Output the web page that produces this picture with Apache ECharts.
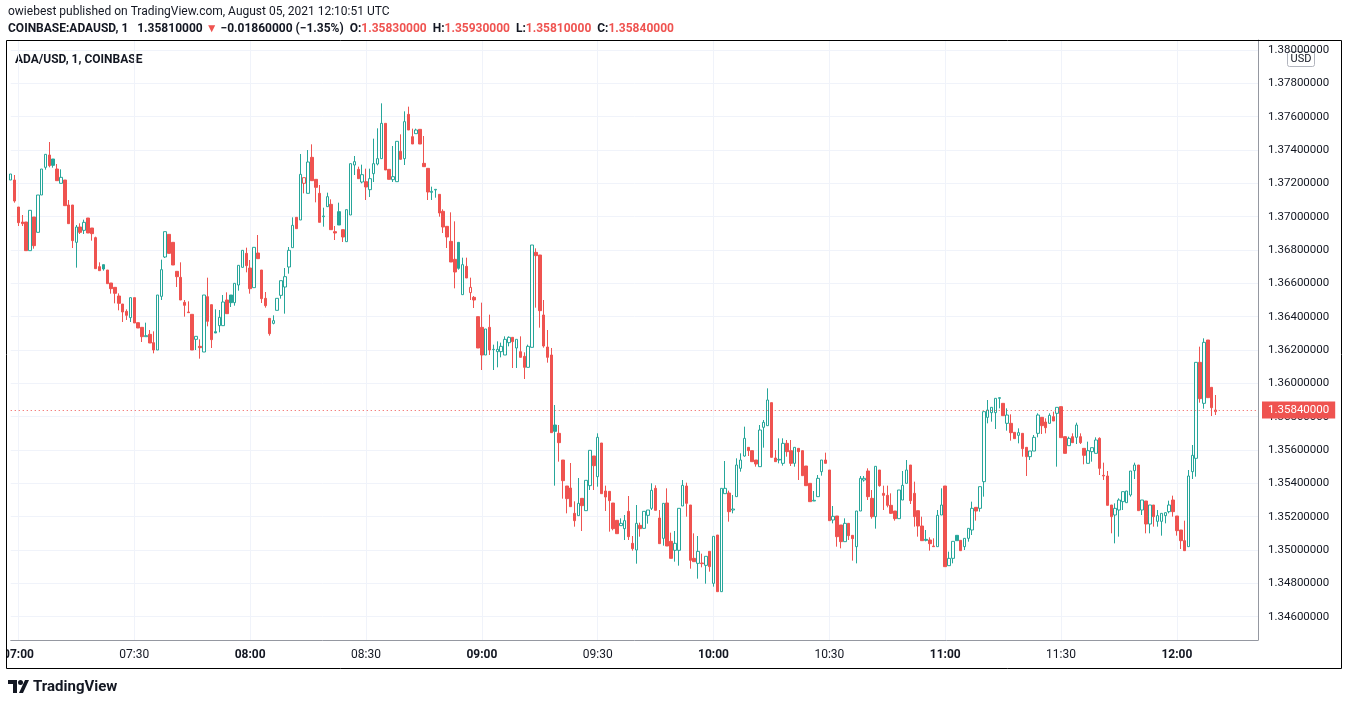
<!DOCTYPE html>
<html>
<head>
<meta charset="utf-8">
<title>ADA/USD, 1, COINBASE</title>
<script src="https://cdn.jsdelivr.net/npm/echarts@6.0.0/dist/echarts.min.js"></script>
<style>
  html, body { margin: 0; padding: 0; background: #ffffff; }
  #chart { width: 1348px; height: 705px; }
</style>
</head>
<body>
<div id="chart"></div>
<script>
// 1 minute candles, first one at 06:58 UTC
const firstMinute = 6 * 60 + 58
const emptySlots = 11 // free room right of the last candle
const lastPrice = 1.3584

// [open, close, low, high]
const candles = [
  [1.3722, 1.37256, 1.3722, 1.37256], [1.3722, 1.37094, 1.37084, 1.3725], [1.37058, 1.36964, 1.36944, 1.37058],
  [1.36968, 1.36958, 1.36944, 1.3701], [1.36968, 1.36796, 1.36796, 1.36968], [1.36796, 1.37038, 1.36796, 1.37038],
  [1.36998, 1.36826, 1.36808, 1.36998], [1.36906, 1.3713, 1.36906, 1.3713], [1.3713, 1.37286, 1.3713, 1.37286],
  [1.37296, 1.37374, 1.37282, 1.37374], [1.3737, 1.37306, 1.37296, 1.37448], [1.37346, 1.37308, 1.37294, 1.37346],
  [1.37286, 1.37216, 1.37216, 1.37316], [1.372, 1.37236, 1.372, 1.37284], [1.3722, 1.37066, 1.37066, 1.3722],
  [1.3707, 1.36958, 1.36958, 1.371], [1.3707, 1.36856, 1.36812, 1.3707], [1.36846, 1.36938, 1.36694, 1.3695],
  [1.36938, 1.36906, 1.36896, 1.3696], [1.36918, 1.36966, 1.36896, 1.36982], [1.36992, 1.36902, 1.36902, 1.36992],
  [1.36932, 1.36898, 1.36856, 1.36932], [1.36874, 1.36688, 1.36688, 1.3688], [1.367, 1.36676, 1.36676, 1.36726],
  [1.36712, 1.36686, 1.36676, 1.36712], [1.3668, 1.36598, 1.36598, 1.3668], [1.36602, 1.36568, 1.36538, 1.36602],
  [1.36576, 1.3654, 1.3648, 1.36576], [1.36524, 1.3648, 1.36438, 1.3654], [1.36476, 1.36428, 1.36368, 1.36476],
  [1.36432, 1.36408, 1.3638, 1.36444], [1.36394, 1.36514, 1.36368, 1.36514], [1.36514, 1.36362, 1.36362, 1.36514],
  [1.36364, 1.36332, 1.36332, 1.36364], [1.36336, 1.3628, 1.36248, 1.36336], [1.3628, 1.36286, 1.3628, 1.36364],
  [1.36294, 1.36242, 1.36242, 1.3632], [1.36244, 1.362, 1.3618, 1.36312], [1.362, 1.3653, 1.362, 1.3653],
  [1.36522, 1.36682, 1.365, 1.36742], [1.36758, 1.3691, 1.36752, 1.3691], [1.36894, 1.3678, 1.3678, 1.36894],
  [1.36846, 1.3671, 1.3671, 1.36846], [1.36672, 1.3664, 1.36578, 1.36672], [1.36636, 1.365, 1.365, 1.36726],
  [1.36486, 1.36468, 1.364, 1.365], [1.36428, 1.36424, 1.36424, 1.36492], [1.36414, 1.362, 1.362, 1.36414],
  [1.36264, 1.36282, 1.362, 1.36282], [1.36222, 1.36214, 1.36148, 1.36264], [1.36188, 1.3653, 1.36188, 1.3653],
  [1.3652, 1.36372, 1.36342, 1.36634], [1.36472, 1.36262, 1.36212, 1.36472], [1.3631, 1.36302, 1.36302, 1.36444],
  [1.36346, 1.36396, 1.36306, 1.3644], [1.36346, 1.36488, 1.36346, 1.3653], [1.365, 1.36418, 1.36418, 1.36546],
  [1.3653, 1.36484, 1.36458, 1.3653], [1.36484, 1.366, 1.36466, 1.366], [1.3659, 1.36708, 1.36556, 1.36708],
  [1.36696, 1.36798, 1.36696, 1.36798], [1.3678, 1.36706, 1.36666, 1.36814], [1.36692, 1.36568, 1.36538, 1.3674],
  [1.36574, 1.36816, 1.36574, 1.36816], [1.36782, 1.36748, 1.36748, 1.3689], [1.3668, 1.36508, 1.36482, 1.3668],
  [1.3651, 1.36466, 1.36454, 1.36548], [1.3639, 1.36298, 1.36286, 1.3639], [1.3636, 1.36376, 1.36354, 1.36408],
  [1.36438, 1.3651, 1.36438, 1.3651], [1.36528, 1.36616, 1.36508, 1.36616], [1.36578, 1.3664, 1.36418, 1.36692],
  [1.36698, 1.36798, 1.36658, 1.36818], [1.36814, 1.36948, 1.36814, 1.36996], [1.36996, 1.36928, 1.36928, 1.36996],
  [1.3698, 1.37254, 1.3698, 1.37376], [1.372, 1.37234, 1.3714, 1.37234], [1.3714, 1.37328, 1.3714, 1.374],
  [1.37356, 1.37216, 1.37216, 1.37434], [1.37224, 1.37176, 1.37086, 1.37224], [1.3714, 1.36966, 1.36966, 1.3719],
  [1.37, 1.37004, 1.3694, 1.37054], [1.3706, 1.3712, 1.3706, 1.37144], [1.37074, 1.36922, 1.36922, 1.37104],
  [1.3691, 1.36902, 1.3686, 1.36944], [1.3703, 1.3695, 1.3695, 1.37084], [1.36922, 1.36878, 1.36848, 1.36922],
  [1.3685, 1.37042, 1.3685, 1.37042], [1.3701, 1.37318, 1.3701, 1.37318], [1.3731, 1.3733, 1.3725, 1.37364],
  [1.37284, 1.37228, 1.37228, 1.373], [1.37208, 1.37252, 1.372, 1.37312], [1.3721, 1.37178, 1.371, 1.37288],
  [1.37162, 1.37228, 1.37118, 1.37288], [1.37258, 1.37318, 1.37208, 1.37468], [1.37316, 1.37348, 1.37308, 1.3753],
  [1.37348, 1.3756, 1.37348, 1.3768], [1.3756, 1.3728, 1.3728, 1.3756], [1.37284, 1.37224, 1.37224, 1.37284],
  [1.37222, 1.3724, 1.37208, 1.37424], [1.3721, 1.37452, 1.3721, 1.37452], [1.37392, 1.37344, 1.37344, 1.37494],
  [1.37348, 1.3757, 1.3731, 1.37632], [1.37614, 1.3752, 1.3752, 1.3766], [1.3748, 1.37436, 1.37436, 1.37528],
  [1.37498, 1.3752, 1.37498, 1.37528], [1.37524, 1.37436, 1.37436, 1.37524], [1.3732, 1.373, 1.373, 1.37484],
  [1.3729, 1.37148, 1.371, 1.3729], [1.37146, 1.37152, 1.371, 1.3718], [1.3716, 1.37164, 1.37114, 1.37164],
  [1.37134, 1.37022, 1.37, 1.37134], [1.37032, 1.36938, 1.36902, 1.37044], [1.36942, 1.36878, 1.36812, 1.36942],
  [1.36852, 1.36728, 1.36728, 1.37026], [1.36744, 1.36668, 1.3657, 1.36972], [1.36846, 1.3669, 1.36682, 1.36846],
  [1.36532, 1.36712, 1.36532, 1.36754], [1.36702, 1.36632, 1.36632, 1.36754], [1.36544, 1.36576, 1.365, 1.36634],
  [1.36516, 1.365, 1.36452, 1.36524], [1.364, 1.36212, 1.36212, 1.364], [1.36336, 1.3617, 1.3608, 1.36484],
  [1.3617, 1.36326, 1.3617, 1.36326], [1.36336, 1.362, 1.3617, 1.36412], [1.36202, 1.36204, 1.3608, 1.36232],
  [1.3619, 1.36204, 1.36096, 1.36252], [1.3619, 1.36222, 1.36156, 1.36244], [1.3617, 1.36264, 1.3617, 1.36282],
  [1.36244, 1.36276, 1.36222, 1.36282], [1.36276, 1.3625, 1.36092, 1.36276], [1.36212, 1.36264, 1.36092, 1.36264],
  [1.3619, 1.36156, 1.36156, 1.36282], [1.36162, 1.36096, 1.36026, 1.36186], [1.36096, 1.36222, 1.36096, 1.36232],
  [1.36216, 1.3683, 1.36216, 1.3683], [1.36786, 1.36766, 1.36454, 1.3681], [1.3677, 1.36436, 1.36334, 1.3677],
  [1.3641, 1.36224, 1.36214, 1.365], [1.36218, 1.36156, 1.36124, 1.3632], [1.3617, 1.35704, 1.35704, 1.36212],
  [1.3575, 1.35712, 1.35386, 1.3587], [1.357, 1.35644, 1.3553, 1.3575], [1.3554, 1.35416, 1.35308, 1.3554],
  [1.35384, 1.35308, 1.3522, 1.35384], [1.35372, 1.3526, 1.3526, 1.35522], [1.3522, 1.35176, 1.3514, 1.35292],
  [1.35206, 1.3528, 1.35206, 1.35432], [1.3531, 1.35266, 1.35114, 1.3531], [1.35236, 1.35418, 1.35236, 1.35418],
  [1.35386, 1.35598, 1.3536, 1.35598], [1.35564, 1.35506, 1.3536, 1.35564], [1.3544, 1.35676, 1.3538, 1.357],
  [1.35642, 1.35338, 1.35338, 1.35642], [1.35354, 1.35318, 1.35234, 1.35386], [1.35352, 1.35296, 1.3511, 1.35352],
  [1.35282, 1.35128, 1.35118, 1.35282], [1.35178, 1.35098, 1.35098, 1.35178], [1.35146, 1.3516, 1.35146, 1.3519],
  [1.35128, 1.35176, 1.3506, 1.3521], [1.35232, 1.3508, 1.3506, 1.35324], [1.3504, 1.35008, 1.34996, 1.35084],
  [1.35, 1.3516, 1.34918, 1.3527], [1.35148, 1.35128, 1.3508, 1.35164], [1.3513, 1.35232, 1.3513, 1.35232],
  [1.35208, 1.3524, 1.35158, 1.3524], [1.3525, 1.35358, 1.3524, 1.354], [1.3537, 1.35238, 1.35238, 1.35388],
  [1.35192, 1.35038, 1.35038, 1.3524], [1.3507, 1.3528, 1.35026, 1.3528], [1.35282, 1.35024, 1.35024, 1.3537],
  [1.35052, 1.3495, 1.3495, 1.35104], [1.34998, 1.3504, 1.3493, 1.35114], [1.34998, 1.3525, 1.34906, 1.3525],
  [1.35264, 1.35388, 1.35264, 1.3542], [1.35384, 1.3528, 1.352, 1.35404], [1.3527, 1.34938, 1.34888, 1.3527],
  [1.3495, 1.3493, 1.3493, 1.351], [1.3492, 1.34992, 1.34828, 1.35084], [1.34922, 1.34918, 1.34896, 1.34978],
  [1.34908, 1.34962, 1.34798, 1.34962], [1.34992, 1.349, 1.3487, 1.34992], [1.348, 1.35082, 1.3478, 1.35082],
  [1.3509, 1.3475, 1.3475, 1.3509], [1.3475, 1.3537, 1.3475, 1.3537], [1.35338, 1.3537, 1.35338, 1.35534],
  [1.35342, 1.3523, 1.3517, 1.35356], [1.3524, 1.35246, 1.3522, 1.3533], [1.3532, 1.3551, 1.3532, 1.3555],
  [1.3549, 1.3554, 1.3547, 1.3558], [1.35564, 1.3567, 1.3556, 1.3574], [1.35616, 1.35596, 1.35564, 1.35616],
  [1.35596, 1.3553, 1.3553, 1.35596], [1.3554, 1.35516, 1.355, 1.3554], [1.355, 1.3572, 1.355, 1.3575],
  [1.35736, 1.35766, 1.35614, 1.3578], [1.35746, 1.359, 1.35746, 1.3597], [1.35884, 1.35556, 1.35556, 1.35884],
  [1.35552, 1.3553, 1.3553, 1.356], [1.3554, 1.35544, 1.3552, 1.3567], [1.3552, 1.3564, 1.35506, 1.3567],
  [1.3564, 1.3559, 1.3556, 1.3566], [1.35596, 1.3552, 1.35504, 1.3566], [1.3552, 1.35616, 1.355, 1.35616],
  [1.3561, 1.3559, 1.3542, 1.3561], [1.35596, 1.35446, 1.35446, 1.35596], [1.35504, 1.35386, 1.35386, 1.35504],
  [1.354, 1.3529, 1.3529, 1.354], [1.35294, 1.35298, 1.35294, 1.35354], [1.3532, 1.3543, 1.3532, 1.3545],
  [1.3547, 1.3554, 1.35446, 1.3554], [1.3554, 1.3552, 1.3552, 1.35584], [1.3548, 1.35176, 1.35176, 1.3548],
  [1.3518, 1.35202, 1.3516, 1.35264], [1.35204, 1.3508, 1.3502, 1.35204], [1.3515, 1.3505, 1.3501, 1.3515],
  [1.3505, 1.3516, 1.3505, 1.3519], [1.3516, 1.35086, 1.3506, 1.3516], [1.35088, 1.35068, 1.34936, 1.35088],
  [1.3502, 1.35234, 1.3492, 1.35234], [1.35234, 1.3543, 1.35234, 1.35444], [1.3542, 1.3543, 1.3541, 1.35444],
  [1.35474, 1.3532, 1.353, 1.3549], [1.3531, 1.352, 1.35188, 1.3536], [1.352, 1.35502, 1.35128, 1.35502],
  [1.3548, 1.35386, 1.3538, 1.3548], [1.3534, 1.35328, 1.3524, 1.35386], [1.35328, 1.35268, 1.35256, 1.35386],
  [1.35268, 1.3522, 1.35216, 1.3534], [1.35234, 1.35188, 1.35176, 1.35234], [1.35188, 1.3536, 1.35188, 1.3536],
  [1.353, 1.35388, 1.353, 1.35474], [1.354, 1.3548, 1.354, 1.3554], [1.3551, 1.35296, 1.35276, 1.3551],
  [1.3534, 1.352, 1.3514, 1.3541], [1.35236, 1.35144, 1.3508, 1.35236], [1.35144, 1.35056, 1.35056, 1.352],
  [1.35064, 1.35058, 1.35052, 1.3512], [1.3506, 1.35038, 1.34996, 1.35076], [1.35024, 1.3502, 1.3502, 1.3507],
  [1.3502, 1.35208, 1.3502, 1.3524], [1.3521, 1.3527, 1.3521, 1.3537], [1.35384, 1.349, 1.349, 1.35384],
  [1.34906, 1.3495, 1.34906, 1.3499], [1.3495, 1.35052, 1.3492, 1.35052], [1.35088, 1.35056, 1.35056, 1.35088],
  [1.35058, 1.34996, 1.34994, 1.35058], [1.3502, 1.3507, 1.35, 1.3507], [1.3507, 1.3513, 1.3505, 1.3513],
  [1.3512, 1.3525, 1.3509, 1.3529], [1.35256, 1.35234, 1.35176, 1.35256], [1.3525, 1.3538, 1.3523, 1.3538],
  [1.3541, 1.3583, 1.3532, 1.3583], [1.35796, 1.3584, 1.3576, 1.359], [1.35824, 1.35856, 1.3577, 1.35856],
  [1.35824, 1.3591, 1.35726, 1.3591], [1.3591, 1.35914, 1.3585, 1.35914], [1.3588, 1.35806, 1.35806, 1.3588],
  [1.3576, 1.3581, 1.35716, 1.3585], [1.3576, 1.35704, 1.35656, 1.35814], [1.35706, 1.35668, 1.35668, 1.35706],
  [1.35688, 1.35704, 1.3564, 1.3573], [1.357, 1.35608, 1.3556, 1.357], [1.35616, 1.3556, 1.35444, 1.35616],
  [1.3556, 1.35594, 1.3554, 1.35594], [1.35594, 1.35676, 1.35594, 1.3569], [1.357, 1.3581, 1.35676, 1.3582],
  [1.35796, 1.35746, 1.35696, 1.35796], [1.35768, 1.35734, 1.357, 1.3579], [1.3576, 1.35808, 1.3576, 1.3582],
  [1.358, 1.35774, 1.35774, 1.3583], [1.3582, 1.35856, 1.355, 1.35856], [1.3586, 1.35674, 1.35674, 1.3586],
  [1.3568, 1.3558, 1.3558, 1.3568], [1.35626, 1.3567, 1.35626, 1.3568], [1.3568, 1.35644, 1.35644, 1.357],
  [1.35676, 1.3575, 1.35636, 1.35764], [1.3568, 1.35644, 1.35636, 1.357], [1.3561, 1.35568, 1.35514, 1.3561],
  [1.3552, 1.35596, 1.3552, 1.3565], [1.3559, 1.35614, 1.3553, 1.35614], [1.3558, 1.3566, 1.3558, 1.35676],
  [1.3567, 1.3549, 1.3545, 1.35676], [1.35448, 1.35444, 1.3542, 1.35524], [1.35444, 1.35268, 1.35268, 1.35474],
  [1.3527, 1.352, 1.351, 1.3527], [1.3521, 1.3525, 1.3504, 1.3528], [1.3524, 1.353, 1.3508, 1.3531],
  [1.3529, 1.3535, 1.3524, 1.3535], [1.35284, 1.35354, 1.35284, 1.35354], [1.3533, 1.35474, 1.3532, 1.35474],
  [1.35476, 1.3551, 1.35426, 1.35524], [1.3551, 1.35236, 1.35236, 1.3551], [1.3524, 1.353, 1.3521, 1.353],
  [1.35294, 1.35156, 1.351, 1.35294], [1.35156, 1.3527, 1.351, 1.3527], [1.3527, 1.352, 1.3514, 1.3527],
  [1.35172, 1.35206, 1.3514, 1.3524], [1.35172, 1.3522, 1.35086, 1.3522], [1.35206, 1.35224, 1.3516, 1.35224],
  [1.3523, 1.3527, 1.3522, 1.35296], [1.353, 1.3523, 1.352, 1.35326], [1.35204, 1.35116, 1.35086, 1.35204],
  [1.3512, 1.35056, 1.35006, 1.3512], [1.35056, 1.34996, 1.34996, 1.35176], [1.3502, 1.35444, 1.3502, 1.3548],
  [1.3547, 1.35568, 1.35426, 1.3563], [1.3555, 1.36126, 1.3544, 1.36126], [1.36126, 1.35908, 1.35884, 1.3622],
  [1.3588, 1.36246, 1.35848, 1.3627], [1.3626, 1.35914, 1.35914, 1.3626], [1.35976, 1.35854, 1.35804, 1.35976],
  [1.3583, 1.3584, 1.3581, 1.3593]
]

const upColor = '#26a69a'
const downColor = '#ef5350'
const textColor = '#131722'
const gridColor = '#f0f3fa'
const font = "Roboto, 'Liberation Sans', Arial, sans-serif"

const pad = n => (n < 10 ? '0' : '') + n
const times = []
for (let i = 0; i < candles.length + emptySlots; i++) {
  const m = firstMinute + i
  times.push(pad(Math.floor(m / 60)) + ':' + pad(m % 60))
}
const halfHour = (idx, val) => val.endsWith(':00') || val.endsWith(':30')

// hollow when close >= open, colour from the previous close
const seriesData = candles.map((c, i) => {
  const prevClose = i > 0 ? candles[i - 1][1] : c[0]
  const col = c[1] >= prevClose ? upColor : downColor
  const fill = c[1] >= c[0] ? '#ffffff' : col
  return {
    value: c,
    itemStyle: { color: fill, color0: fill, borderColor: col, borderColor0: col, borderWidth: 1 }
  }
})

const chart = echarts.init(document.getElementById('chart'))
chart.setOption({
  animation: false,
  backgroundColor: '#ffffff',
  textStyle: { fontFamily: font },
  grid: { left: 7, right: 90, top: 40, bottom: 65 },
  xAxis: {
    type: 'category',
    data: times,
    boundaryGap: false,
    axisLine: { lineStyle: { color: '#9598a1' } },
    axisTick: { show: false },
    axisLabel: {
      interval: halfHour,
      margin: 9,
      color: textColor,
      fontSize: 12,
      formatter: v => (v.endsWith(':00') ? '{b|' + v + '}' : v),
      rich: { b: { fontWeight: 'bold', fontSize: 12, color: textColor } }
    },
    splitLine: { show: true, interval: halfHour, lineStyle: { color: gridColor } }
  },
  yAxis: {
    type: 'value',
    position: 'right',
    scale: true,
    min: 1.3446,
    max: 1.3806,
    splitNumber: 18,
    axisLine: { show: true, lineStyle: { color: '#9598a1' } },
    axisTick: { show: false },
    axisLabel: {
      color: textColor,
      fontSize: 11.5,
      margin: 10,
      showMinLabel: false,
      showMaxLabel: false,
      formatter: v => v.toFixed(8)
    },
    splitLine: { lineStyle: { color: gridColor } }
  },
  series: [{
    type: 'candlestick',
    data: seriesData,
    barWidth: 3,
    markLine: {
      silent: true,
      symbol: 'none',
      precision: 8,
      data: [{ yAxis: lastPrice }],
      lineStyle: { color: downColor, type: [1, 3], width: 1 },
      label: {
        position: 'end',
        distance: 4,
        formatter: lastPrice.toFixed(8),
        color: '#ffffff',
        backgroundColor: downColor,
        padding: [3, 6, 2, 6],
        fontSize: 11.5
      }
    }
  }],
  graphic: [
    {
      // the frame cuts the first time label like the plot edge does
      type: 'rect',
      shape: { x: 0, y: 641, width: 6, height: 26 },
      style: { fill: '#ffffff' },
      z: 99
    },
    {
      type: 'rect',
      shape: { x: 6.5, y: 40.5, width: 1335, height: 628 },
      style: { fill: 'none', stroke: '#000000', lineWidth: 1 },
      z: 100
    },
    {
      type: 'text', x: 8, y: 12,
      style: {
        text: 'owiebest published on TradingView.com, August 05, 2021 12:10:51 UTC',
        fill: textColor, font: '12px ' + font, verticalAlign: 'middle'
      }
    },
    {
      type: 'text', x: 8, y: 29,
      style: {
        text: '{d|COINBASE:ADAUSD, 1   1.35810000 }{r|▼}{d| −0.01860000 (−1.35%)  O:}{r|1.35830000}{d|  H:}{r|1.35930000}{d|  L:}{r|1.35810000}{d|  C:}{r|1.35840000}',
        verticalAlign: 'middle',
        rich: {
          d: { fill: textColor, fontSize: 12, fontWeight: 'bold', fontFamily: font },
          r: { fill: downColor, fontSize: 12, fontWeight: 'bold', fontFamily: font }
        }
      }
    },
    {
      type: 'text', x: 15, y: 60,
      style: { text: 'ADA/USD, 1, COINBASE', fill: textColor, font: 'bold 12px ' + font, verticalAlign: 'middle' }
    },
    {
      type: 'group', x: 1287, y: 51,
      children: [
        { type: 'rect', shape: { x: 0.5, y: 0.5, width: 27, height: 15, r: 2 }, style: { fill: '#ffffff', stroke: '#b2b5be', lineWidth: 1 } },
        { type: 'text', x: 14, y: 8.5, style: { text: 'USD', fill: textColor, font: '11px ' + font, align: 'center', verticalAlign: 'middle' } }
      ],
      z: 101
    },
    {
      type: 'group', x: 8, y: 680,
      children: [
        { type: 'polygon', shape: { points: [[0, 0], [9, 0], [9, 13], [5, 13], [5, 4], [0, 4]] }, style: { fill: textColor } },
        { type: 'circle', shape: { cx: 12.5, cy: 2.5, r: 2.5 }, style: { fill: textColor } },
        { type: 'polygon', shape: { points: [[17, 0], [21, 0], [15, 13], [11, 13]] }, style: { fill: textColor } },
        { type: 'text', x: 25, y: 7, style: { text: 'TradingView', fill: textColor, font: 'bold 15px ' + font, verticalAlign: 'middle' } }
      ]
    }
  ]
})
</script>
</body>
</html>
